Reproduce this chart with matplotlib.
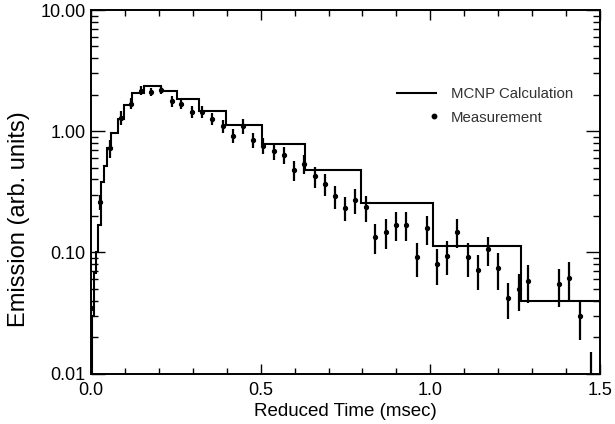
import matplotlib
matplotlib.use("Agg")
import matplotlib.pyplot as plt
from matplotlib.ticker import FixedLocator, MultipleLocator, FormatStrFormatter, LogLocator, NullFormatter
from matplotlib.legend_handler import HandlerLine2D
from matplotlib.lines import Line2D
import numpy as np

plt.rcParams['font.family'] = ['Liberation Sans', 'DejaVu Sans']

# MCNP calculation (histogram): bin edges (msec) and values
mcnp_edges = [0.0, 0.003, 0.009, 0.015, 0.020, 0.028, 0.037, 0.048, 0.059, 0.079,
              0.098, 0.122, 0.156, 0.205, 0.253, 0.317, 0.397, 0.503, 0.631, 0.796,
              1.007, 1.267, 1.5]
mcnp_values = [0.005, 0.030, 0.067, 0.10, 0.168, 0.378, 0.52, 0.72, 0.97, 1.26,
               1.64, 2.07, 2.35, 2.15, 1.84, 1.46, 1.12, 0.79, 0.48, 0.256,
               0.113, 0.0396]

# Measurement
meas_t = [0.0, 0.027, 0.056, 0.088, 0.119, 0.148, 0.178, 0.207, 0.238, 0.266,
          0.299, 0.328, 0.358, 0.389, 0.419, 0.448, 0.478, 0.508, 0.538, 0.568,
          0.599, 0.628, 0.659, 0.689, 0.72, 0.749, 0.779, 0.809, 0.838, 0.868,
          0.899, 0.928, 0.96, 0.989, 1.02, 1.049, 1.079, 1.11, 1.14, 1.17,
          1.2, 1.229, 1.26, 1.289, 1.38, 1.41, 1.44, 1.474]
meas_v = [0.035, 0.26, 0.72, 1.29, 1.69, 2.16, 2.11, 2.2, 1.76, 1.68,
          1.44, 1.44, 1.27, 1.10, 0.92, 1.10, 0.84, 0.76, 0.69, 0.64,
          0.475, 0.54, 0.425, 0.366, 0.29, 0.233, 0.27, 0.235, 0.133, 0.147,
          0.169, 0.169, 0.091, 0.158, 0.080, 0.094, 0.148, 0.091, 0.072, 0.106,
          0.074, 0.042, 0.0495, 0.058, 0.0545, 0.0617, 0.0298, 0.0085]
meas_err = [0.004, 0.037, 0.12, 0.17, 0.18, 0.19, 0.15, 0.18, 0.19, 0.17,
            0.16, 0.16, 0.15, 0.14, 0.12, 0.15, 0.12, 0.115, 0.11, 0.105,
            0.088, 0.093, 0.083, 0.073, 0.06, 0.053, 0.063, 0.056, 0.037, 0.04,
            0.045, 0.045, 0.029, 0.043, 0.026, 0.029, 0.04, 0.028, 0.023, 0.029,
            0.025, 0.014, 0.017, 0.02, 0.019, 0.0215, 0.011, 0.0065]

y_ticks = [0.01, 0.1, 1.0, 10.0]
x_ticks = [0.0, 0.5, 1.0, 1.5]

fig = plt.figure(figsize=(6.15, 4.24), dpi=100)
ax = fig.add_axes([0.148, 0.1191, 0.8276, 0.8573])

ax.stairs(mcnp_values, mcnp_edges, baseline=None, color='black', linewidth=1.5)
ax.errorbar(meas_t, meas_v, yerr=meas_err, fmt='o', color='black', markersize=2.8,
            elinewidth=1.6, capsize=0)

ax.set_yscale('log')
ax.set_xlim(0, 1.5)
ax.set_ylim(0.01, 10)

ax.yaxis.set_major_locator(FixedLocator(y_ticks))
ax.yaxis.set_major_formatter(FormatStrFormatter('%.2f'))
ax.yaxis.set_minor_locator(LogLocator(base=10, subs=np.arange(2, 10)))
ax.yaxis.set_minor_formatter(NullFormatter())
ax.xaxis.set_major_locator(FixedLocator(x_ticks))
ax.xaxis.set_major_formatter(FormatStrFormatter('%.1f'))
ax.xaxis.set_minor_locator(MultipleLocator(0.1))

ax.tick_params(which='both', direction='in', top=True, right=True, width=1.0, labelsize=13)
ax.tick_params(axis='y', which='major', length=10, pad=4)
ax.tick_params(axis='y', which='minor', length=5)
ax.tick_params(axis='x', which='major', length=7, pad=6)
ax.tick_params(axis='x', which='minor', length=4)
for s in ax.spines.values():
    s.set_linewidth(1.4)

ax.set_xlabel('Reduced Time (msec)', fontsize=13.5, labelpad=3)
ax.set_ylabel('Emission (arb. units)', fontsize=17)
ax.yaxis.set_label_coords(-0.12, 0.424)


class RightDot(HandlerLine2D):
    def get_xdata(self, legend, xdescent, ydescent, width, height, fontsize):
        xd = np.array([-xdescent + 0.9 * width, -xdescent + 1.0 * width])
        return xd, [-xdescent + 0.95 * width]


h_line = Line2D([], [], color='black', linewidth=1.5)
h_dot = Line2D([], [], color='black', marker='o', markersize=3.2, linestyle='None')
leg = ax.legend([h_line, h_dot], ['MCNP Calculation', 'Measurement'],
                loc='upper left', bbox_to_anchor=(0.574, 0.826), frameon=False,
                fontsize=10.8, handlelength=2.6, handletextpad=1.0, labelspacing=0.65,
                numpoints=1, handler_map={h_dot: RightDot(numpoints=1)})
for t in leg.get_texts():
    t.set_color('#333333')

fig.savefig('out.png', dpi=100)
